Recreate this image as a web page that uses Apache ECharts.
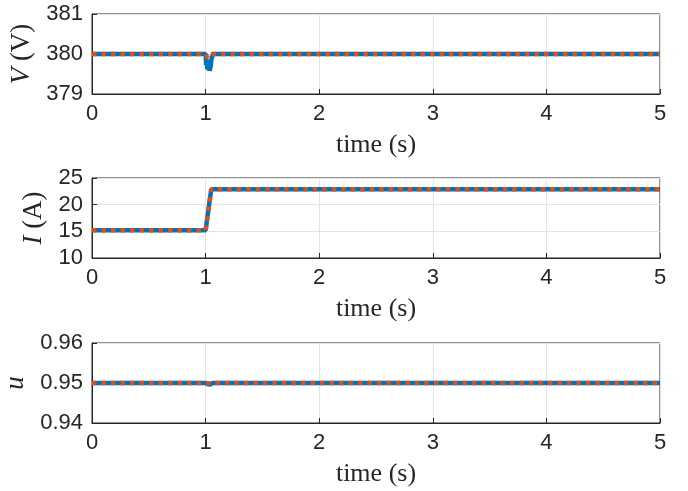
<!DOCTYPE html>
<html>
<head>
<meta charset="utf-8">
<script src="https://cdn.jsdelivr.net/npm/echarts@6/dist/echarts.min.js"></script>
<style>
  html, body { margin: 0; padding: 0; background: #fff; }
  #main { width: 688px; height: 491px; }
</style>
</head>
<body>
<div id="main"></div>
<script>
// time samples (s) and measured / reference signals
const tV = [0, 1.0, 1.005, 1.01, 1.015, 1.02, 1.025, 1.03, 1.035, 1.04, 1.045, 1.05, 1.065, 5];
const vMeas = [380, 380, 379.72, 379.85, 379.62, 379.8, 379.6, 379.75, 379.58, 379.62, 379.7, 379.85, 380, 380];
const tVref = [0, 1.0, 1.02, 1.04, 1.06, 5];
const vRef = [380, 380, 379.9, 379.97, 380, 380];

const tI = [0, 1.0, 1.05, 5];
const iMeas = [15.2, 15.2, 22.9, 22.9];
const iRef = [15.2, 15.2, 22.9, 22.9];

const tU = [0, 1.0, 1.02, 1.03, 1.04, 1.06, 5];
const uMeas = [0.95, 0.95, 0.9497, 0.9494, 0.9496, 0.95, 0.95];
const tUref = [0, 1.0, 1.015, 1.025, 1.045, 5];
const uRef = [0.95, 0.95, 0.9503, 0.9499, 0.95, 0.95];

const xTicks = [0, 1, 2, 3, 4, 5];
const vTicks = [379, 380, 381];
const iTicks = [10, 15, 20, 25];
const uTicks = [0.94, 0.95, 0.96];

const sans = 'Liberation Sans';
const serif = 'Liberation Serif';
const axisColor = '#262626';
const gridColor = '#e3e3e3';
const blue = '#0072BD';
const orange = '#D95319';

const zip = (xs, ys) => xs.map((x, k) => [x, ys[k]]);

// three stacked panels, boxed like matlab subplots
const grids = [14, 178, 343].map(top => ({
  left: 92, right: 28, top: top, height: 80, outerBoundsMode: 'none',
  show: true, borderColor: axisColor, borderWidth: 1, backgroundColor: 'transparent'
}));

const yInfo = [
  { ticks: vTicks, name: '{i|V} (V)', gap: 55 },
  { ticks: iTicks, name: '{i|I} (A)', gap: 43 },
  { ticks: uTicks, name: '{i|u}', gap: 62 }
];

let xAxis = [], yAxis = [];
grids.forEach((g, i) => {
  xAxis.push({
    type: 'value', gridIndex: i, min: xTicks[0], max: xTicks[xTicks.length - 1], interval: 1,
    name: 'time (s)', nameLocation: 'middle', nameGap: 38,
    nameTextStyle: { fontFamily: serif, fontSize: 26, color: axisColor },
    axisLine: { show: true, lineStyle: { color: axisColor } },
    axisTick: { show: true, inside: true, length: 5, lineStyle: { color: axisColor } },
    axisLabel: { fontFamily: sans, fontSize: 22, color: axisColor, margin: 9 },
    splitLine: { show: true, lineStyle: { color: gridColor } }
  });
  const t = yInfo[i].ticks;
  const step = +(t[1] - t[0]).toFixed(4);
  yAxis.push({
    type: 'value', gridIndex: i, min: t[0], max: t[t.length - 1], interval: step,
    name: yInfo[i].name, nameLocation: 'middle', nameGap: yInfo[i].gap, nameRotate: 90,
    nameTextStyle: {
      fontFamily: serif, fontSize: 27, color: axisColor,
      rich: { i: { fontFamily: serif, fontStyle: 'italic', fontSize: 27, color: axisColor } }
    },
    axisLine: { show: true, lineStyle: { color: axisColor } },
    axisTick: { show: true, inside: true, length: 5, lineStyle: { color: axisColor } },
    axisLabel: {
      fontFamily: sans, fontSize: 22, color: axisColor, margin: 9,
      formatter: v => (i === 2 ? v.toFixed(2) : String(Math.round(v)))
    },
    splitLine: { show: true, lineStyle: { color: gridColor } }
  });
});

function measLine(i, data) {
  return {
    type: 'line', xAxisIndex: i, yAxisIndex: i, data: data,
    showSymbol: false,
    lineStyle: { color: blue, width: 4.5 }
  };
}
function refLine(i, data) {
  return {
    type: 'line', xAxisIndex: i, yAxisIndex: i, data: data,
    showSymbol: false,
    lineStyle: { color: orange, width: 4.5, type: [4.5, 5] }
  };
}

const chart = echarts.init(document.getElementById('main'));
chart.setOption({
  backgroundColor: '#fff',
  animation: false,
  grid: grids,
  xAxis: xAxis,
  yAxis: yAxis,
  series: [
    measLine(0, zip(tV, vMeas)), refLine(0, zip(tVref, vRef)),
    measLine(1, zip(tI, iMeas)), refLine(1, zip(tI, iRef)),
    measLine(2, zip(tU, uMeas)), refLine(2, zip(tUref, uRef))
  ]
});
</script>
</body>
</html>
